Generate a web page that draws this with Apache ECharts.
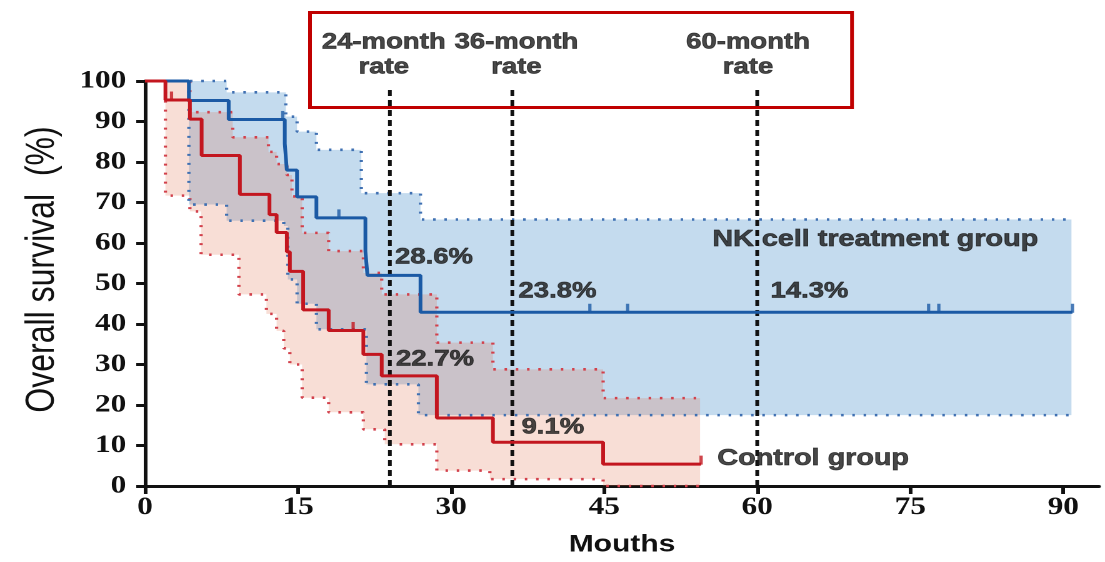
<!DOCTYPE html>
<html>
<head>
<meta charset="utf-8">
<script src="https://cdn.jsdelivr.net/npm/echarts@6/dist/echarts.min.js"></script>
<style>
  html, body { margin: 0; padding: 0; background: #fff; overflow: hidden; }
  /* the figure is drawn at 884px and widened to 1105px, as in the published figure */
  #chart { width: 884px; height: 562px; transform: scaleX(1.25); transform-origin: 0 0; }
</style>
</head>
<body>
<div id="chart"></div>
<script>
// Kaplan–Meier overall survival, NK cell treatment vs control

// NK cell treatment group: step times (months) and survival (%)
const nkTime = [0, 4.3, 8.2, 13.7, 13.9, 14.9, 16.8, 21.6, 21.8, 27.0, 90.9];
const nkSurv = [100, 95.2, 90.5, 84.5, 78.0, 71.4, 66.2, 58.0, 52.0, 42.9, 42.9];
const nkCensored = [[13.5, 90.5], [19.0, 66.2], [43.6, 42.9], [47.3, 42.9], [76.8, 42.9], [77.8, 42.9], [90.9, 42.9]];
// 95% confidence band of the NK group
const nkUpperTime = [0, 8.0, 13.8, 14.9, 16.8, 21.2, 27.0, 90.8];
const nkUpper = [100, 97.2, 91.2, 87.5, 83.0, 72.3, 65.8, 65.8];
const nkLowerTime = [0, 4.3, 8.0, 13.6, 14.0, 14.9, 16.8, 21.7, 26.8, 90.8];
const nkLower = [100, 69.5, 65.5, 64.2, 51.0, 45.0, 38.7, 25.1, 17.5, 17.5];

// Control group
const ctrlTime = [0, 2.0, 4.4, 5.55, 9.3, 12.2, 12.9, 13.9, 14.2, 15.5, 18.0, 21.4, 23.2, 28.6, 34.1, 44.9, 54.5];
const ctrlSurv = [100, 95.3, 90.6, 81.6, 72.0, 67.0, 62.6, 57.8, 53.0, 43.5, 38.4, 32.5, 27.2, 16.8, 10.8, 5.4, 5.4];
const ctrlCensored = [[2.6, 95.3], [20.4, 38.4], [54.5, 5.4]];
const ctrlUpperTime = [0, 4.4, 8.6, 12.1, 12.9, 13.9, 14.4, 15.4, 18.0, 21.4, 23.2, 28.6, 34.1, 44.9, 54.4];
const ctrlUpper = [100, 92.3, 86.1, 82.5, 79.5, 76.8, 71.5, 62.5, 58.0, 52.6, 47.3, 35.4, 28.8, 21.7, 21.7];
const ctrlLowerTime = [0, 2.0, 4.4, 5.5, 9.2, 11.9, 12.9, 13.6, 14.2, 15.4, 18.0, 21.4, 23.5, 28.6, 33.8, 44.9, 54.4];
const ctrlLower = [100, 71.7, 67.8, 57.1, 47.3, 42.5, 38.3, 34.0, 30.0, 21.8, 18.2, 14.0, 10.3, 3.8, 1.7, 0, 0];

// landmark times and the rates written beside them
const rateMonths = [24, 36, 60];
const rateHeaders = ['24-month\nrate', '36-month\nrate', '60-month\nrate'];
const nkRates = ['28.6%', '23.8%', '14.3%'];
const ctrlRates = ['22.7%', '9.1%'];
const groupNames = ['NK cell treatment group', 'Control group'];

// axis ticks
const xTicks = [0, 15, 30, 45, 60, 75, 90];

// ---- helpers ----
const pairs = (ts, vs) => ts.map((t, i) => [t, vs[i]]);
function stepPath(ts, vs) {
  const pts = [];
  for (let i = 0; i < ts.length; i++) {
    pts.push([ts[i], vs[i]]);
    if (i < ts.length - 1) pts.push([ts[i + 1], vs[i]]);
  }
  return pts;
}
function bandPolygon(upT, up, loT, lo) {
  return stepPath(upT, up).concat(stepPath(loT, lo).reverse());
}

const BLUE = '#1b5aa5', RED = '#c3161f';
const BLUE_DOT = '#3f70b2', RED_DOT = '#d2404b';
const BLUE_FILL = '#c4dbee';
const RED_FILL = 'rgba(224,111,77,0.23)';   // translucent, so the blue band shows through where they overlap
const INK = '#111';
const SANS = '"Liberation Sans", Arial, sans-serif';
const SERIF = '"Liberation Serif", "Times New Roman", serif';

function bandSeries(name, poly, fill, z) {
  return {
    type: 'custom', name, z, silent: true, clip: false,
    data: [[0, 0]],
    renderItem: (params, api) => ({
      type: 'polygon',
      shape: { points: poly.map(p => api.coord(p)) },
      style: { fill }
    })
  };
}
function stepLine(name, data, color, width, type, z) {
  return {
    type: 'line', name, data, step: 'end', z, symbol: 'none', silent: true,
    lineStyle: { color, width, type }, clip: false
  };
}
function censorSeries(name, data, color) {
  return {
    type: 'scatter', name, data, z: 5, silent: true,
    symbol: 'rect', symbolSize: [2.6, 9], symbolOffset: [0, -4],
    itemStyle: { color }
  };
}
function textSeries(name, items, font) {
  return {
    type: 'scatter', name, z: 6, silent: true, clip: false, symbolSize: 0,
    data: items.map(it => ({ value: it.at, label: { formatter: it.text } })),
    label: {
      show: true, position: [0, 0], align: font.align || 'left', verticalAlign: 'middle',
      fontFamily: SANS, fontWeight: 'bold', fontSize: font.size, color: '#1a1a1a',
      textBorderColor: '#1a1a1a', textBorderWidth: 0.7,
      lineHeight: font.lineHeight
    }
  };
}

// landmark dashed lines
const landmarkSeries = rateMonths.map((m, i) => stepLine('landmark' + i, [[m, 0], [m, 98.5]], INK, 3, [6, 4], 3));

const chart = echarts.init(document.getElementById('chart'), null, { renderer: 'canvas', devicePixelRatio: 2 });

chart.setOption({
  animation: false,
  backgroundColor: '#fff',
  grid: { left: 116, right: 4.8, top: 81, bottom: 75 },
  xAxis: {
    type: 'value', min: 0, max: 93.5, interval: 15,
    axisLine: { lineStyle: { color: INK, width: 3 } },
    axisTick: { show: true, length: 8, customValues: xTicks, lineStyle: { color: INK, width: 3 } },
    axisLabel: { customValues: xTicks, fontFamily: SERIF, fontWeight: 'bold', fontSize: 25, color: INK, margin: 9 },
    splitLine: { show: false },
    name: 'Mouths', nameLocation: 'middle', nameGap: 47,
    nameTextStyle: { fontFamily: SANS, fontWeight: 'bold', fontSize: 24, color: INK }
  },
  yAxis: {
    type: 'value', min: 0, max: 100, interval: 10,
    axisLine: { show: true, lineStyle: { color: INK, width: 3 } },
    axisTick: { show: true, length: 7, lineStyle: { color: INK, width: 3 } },
    axisLabel: { fontFamily: SERIF, fontWeight: 'bold', fontSize: 25, color: INK, margin: 15 },
    splitLine: { show: false },
    name: 'Overall survival  (%)', nameLocation: 'middle', nameGap: 66,
    nameTextStyle: { fontFamily: SANS, fontSize: 32, color: INK, padding: [0, 0, 0, 28] }
  },
  graphic: [{
    type: 'rect', z: 10, silent: true,
    shape: { x: 248, y: 12.5, width: 433.6, height: 95 },
    style: { fill: 'none', stroke: '#c00000', lineWidth: 3 }
  }],
  series: [
    bandSeries('nkBand', bandPolygon(nkUpperTime, nkUpper, nkLowerTime, nkLower), BLUE_FILL, 1),
    bandSeries('ctrlBand', bandPolygon(ctrlUpperTime, ctrlUpper, ctrlLowerTime, ctrlLower), RED_FILL, 1),
    stepLine('ctrlUpper', pairs(ctrlUpperTime, ctrlUpper), RED_DOT, 2.6, [2, 7], 2),
    stepLine('ctrlLower', pairs(ctrlLowerTime, ctrlLower), RED_DOT, 2.6, [2, 7], 2),
    stepLine('nkUpper', pairs(nkUpperTime, nkUpper), BLUE_DOT, 2.6, [2, 7], 2),
    stepLine('nkLower', pairs(nkLowerTime, nkLower), BLUE_DOT, 2.6, [2, 7], 2),
    ...landmarkSeries,
    stepLine('NK cell treatment group', pairs(nkTime, nkSurv), BLUE, 3, 'solid', 4),
    stepLine('Control group', pairs(ctrlTime, ctrlSurv), RED, 3, 'solid', 4.5),
    censorSeries('ctrlCensor', ctrlCensored, RED),
    censorSeries('nkCensor', nkCensored, BLUE),
    textSeries('headers', [
      { text: rateHeaders[0], at: [rateMonths[0] - 0.6, 106.4] },
      { text: rateHeaders[1], at: [rateMonths[1] + 0.4, 106.4] },
      { text: rateHeaders[2], at: [rateMonths[2] - 0.9, 106.4] }
    ], { size: 22, lineHeight: 25, align: 'center' }),
    textSeries('nkRates', [
      { text: nkRates[0], at: [24.5, 56.4] },
      { text: nkRates[1], at: [36.6, 48.0] },
      { text: nkRates[2], at: [61.3, 48.0] }
    ], { size: 22 }),
    textSeries('ctrlRates', [
      { text: ctrlRates[0], at: [24.6, 31.3] },
      { text: ctrlRates[1], at: [36.9, 14.5] }
    ], { size: 22 }),
    textSeries('groups', [
      { text: groupNames[0], at: [55.6, 60.8] },
      { text: groupNames[1], at: [56.1, 6.7] }
    ], { size: 23 })
  ]
});
</script>
</body>
</html>
